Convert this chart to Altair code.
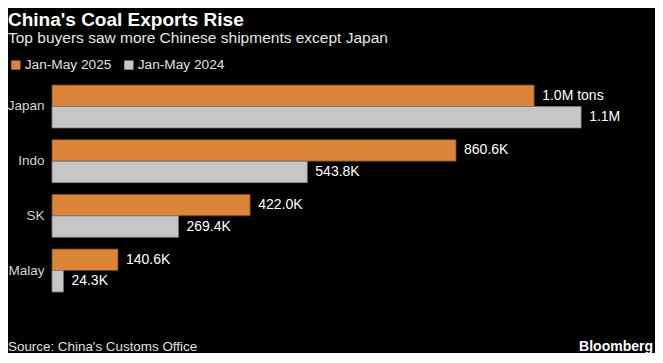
import altair as alt
import pandas as pd

countries = ["Japan", "Indo", "SK", "Malay"]
years = ["Jan-May 2025", "Jan-May 2024"]
v2025 = [1027000, 860600, 422000, 140600]
v2024 = [1127000, 543800, 269400, 24300]
labels2025 = ["1.0M tons", "860.6K", "422.0K", "140.6K"]
labels2024 = ["1.1M", "543.8K", "269.4K", "24.3K"]

rows = []
for c, a, b, la, lb in zip(countries, v2025, v2024, labels2025, labels2024):
    rows.append({"country": c, "year": years[0], "value": a, "label": la})
    rows.append({"country": c, "year": years[1], "value": b, "label": lb})
df = pd.DataFrame(rows)

FONT = "Liberation Sans, Arial, sans-serif"
ORANGE = "#DB853A"
GRAY = "#C6C6C6"

W = 590
D = W / 469.5e-6

y_enc = alt.Y(
    "country:N",
    sort=countries,
    scale=alt.Scale(paddingInner=0.214, paddingOuter=0),
    axis=alt.Axis(title=None, ticks=False, domain=False, labelColor="#d4d4d4",
                  labelFontSize=13.5, labelFont=FONT, labelPadding=8),
)
yoff = alt.YOffset("year:N", sort=years, scale=alt.Scale(paddingInner=0, paddingOuter=0))
x_enc = alt.X("value:Q", scale=alt.Scale(domain=[0, D], nice=False, zero=True), axis=None)

bars = alt.Chart(df).mark_bar(strokeWidth=0.8).encode(
    x=x_enc,
    y=y_enc,
    yOffset=yoff,
    color=alt.Color(
        "year:N",
        sort=years,
        scale=alt.Scale(domain=years, range=[ORANGE, GRAY]),
        legend=alt.Legend(
            title=None, orient="none", legendX=-43, legendY=-27, direction="horizontal",
            symbolType="square", symbolSize=85, symbolStrokeWidth=0,
            labelFontSize=13.7, labelFont=FONT, labelColor="#e0e0e0",
            labelOffset=2, columnPadding=10, padding=0,
        ),
    ),
    stroke=alt.Stroke("year:N", scale=alt.Scale(domain=years, range=["#6b4420", "#7a7a7a"]), legend=None),
)

texts = alt.Chart(df).mark_text(align="left", baseline="middle", dx=8, fontSize=14,
                                font=FONT, color="white").encode(
    x=x_enc, y=y_enc, yOffset=yoff, text="label:N"
)

source_df = pd.DataFrame({"t": ["Source: China's Customs Office"]})
brand_df = pd.DataFrame({"t": ["Bloomberg"]})
source = alt.Chart(source_df).mark_text(align="left", baseline="alphabetic", fontSize=13.4,
                                        font=FONT, color="#e0e0e0").encode(
    x=alt.value(-44), y=alt.value(266), text="t:N"
)
brand = alt.Chart(brand_df).mark_text(align="right", baseline="alphabetic", fontSize=14,
                                      fontWeight="bold", font=FONT, color="white").encode(
    x=alt.value(601), y=alt.value(266), text="t:N"
)

chart = alt.layer(bars, texts, source, brand).properties(
    width=W,
    height=207,
    background="black",
    autosize=alt.AutoSizeParams(type="none"),
    padding={"left": 44, "top": 77, "right": 13, "bottom": 61},
    title=alt.Title(
        "China's Coal Exports Rise",
        subtitle="Top buyers saw more Chinese shipments except Japan",
        anchor="start", frame="group", dx=-44, offset=12,
        font=FONT, fontSize=19, fontWeight="bold", color="white",
        subtitleFont=FONT, subtitleFontSize=15.5, subtitleColor="#e6e6e6", subtitlePadding=1,
    ),
).configure_view(stroke=None)

chart.save("out.html", embed_options={"renderer": "svg", "actions": False})
